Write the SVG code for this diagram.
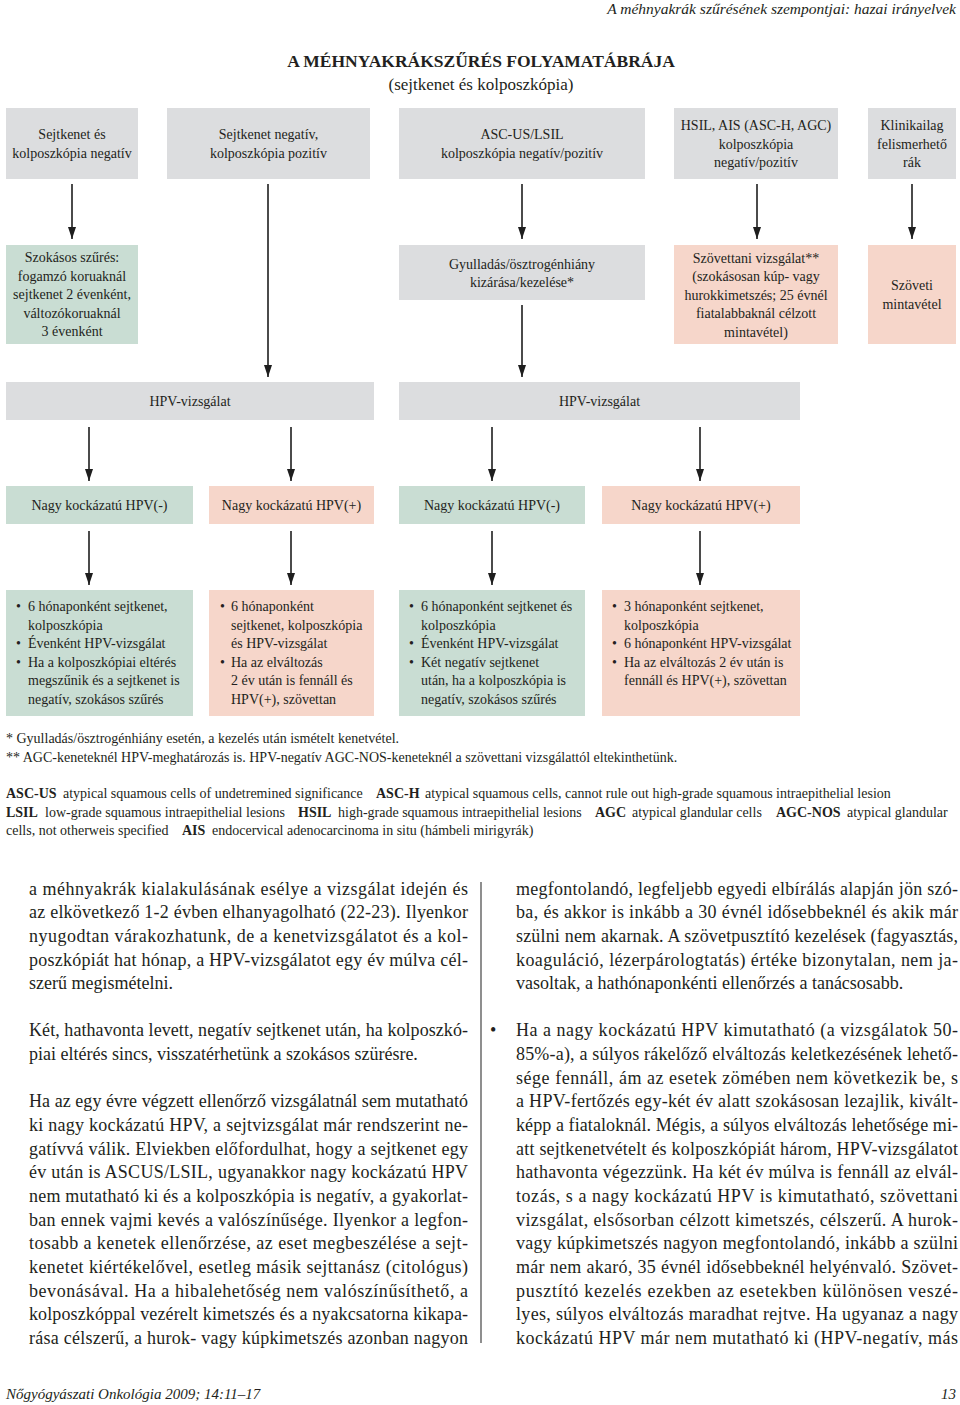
<svg xmlns="http://www.w3.org/2000/svg" width="960" height="1405" viewBox="0 0 960 1405">
<style>
text{font-family:"Liberation Serif","Times New Roman",serif;fill:#231f20}
.t{font-size:14px}
.c{text-anchor:middle}
.b{font-size:18px}
.i{font-style:italic}
.bd{font-weight:bold}
.gray{fill:#dcdddf}
.green{fill:#c9ddd3}
.pink{fill:#f6d6ca}
.ln{stroke:#1e1e1e;stroke-width:1.6;fill:none}
.cn{stroke:#1e1e1e;stroke-width:1.6;fill:none;marker-end:url(#ah)}
</style>
<defs>
<marker id="ah" viewBox="0 0 12 8" refX="12" refY="4" markerWidth="12" markerHeight="8" markerUnits="userSpaceOnUse" orient="auto">
<path d="M0,0 L12,4 L0,8 Z" fill="#1e1e1e"/>
</marker>
</defs>
<rect width="960" height="1405" fill="#fff"/>

<g id="header">
<text class="i" x="956" y="14" style="font-size:15.5px;text-anchor:end">A méhnyakrák szűrésének szempontjai: hazai irányelvek</text>
<text class="bd c" x="481" y="67" style="font-size:17.5px">A MÉHNYAKRÁKSZŰRÉS FOLYAMATÁBRÁJA</text>
<text class="c" x="481" y="90" style="font-size:17px">(sejtkenet és kolposzkópia)</text>
</g>

<g id="connectors">
<line class="cn" x1="72" y1="184" x2="72" y2="239"/>
<line class="cn" x1="268" y1="184" x2="268" y2="377"/>
<line class="cn" x1="522" y1="184" x2="522" y2="239"/>
<line class="cn" x1="757" y1="184" x2="757" y2="239"/>
<line class="cn" x1="912" y1="184" x2="912" y2="239"/>
<line class="cn" x1="522" y1="305" x2="522" y2="377"/>
<line class="cn" x1="89" y1="427" x2="89" y2="481"/>
<line class="cn" x1="291" y1="427" x2="291" y2="481"/>
<line class="cn" x1="492" y1="427" x2="492" y2="481"/>
<line class="cn" x1="700" y1="427" x2="700" y2="481"/>
<line class="cn" x1="89" y1="531" x2="89" y2="585"/>
<line class="cn" x1="291" y1="531" x2="291" y2="585"/>
<line class="cn" x1="492" y1="531" x2="492" y2="585"/>
<line class="cn" x1="700" y1="531" x2="700" y2="585"/>
</g>

<g id="n1">
<rect class="gray" x="6" y="108" width="132" height="71"/>
<text class="t c" x="72" y="139">Sejtkenet és</text>
<text class="t c" x="72" y="158">kolposzkópia negatív</text>
</g>
<g id="n2">
<rect class="gray" x="167" y="108" width="203" height="71"/>
<text class="t c" x="268.5" y="139">Sejtkenet negatív,</text>
<text class="t c" x="268.5" y="158">kolposzkópia pozitív</text>
</g>
<g id="n3">
<rect class="gray" x="399" y="108" width="246" height="71"/>
<text class="t c" x="522" y="139">ASC-US/LSIL</text>
<text class="t c" x="522" y="158">kolposzkópia negatív/pozitív</text>
</g>
<g id="n4">
<rect class="gray" x="674" y="108" width="164" height="71"/>
<text class="t c" x="756" y="130">HSIL, AIS (ASC-H, AGC)</text>
<text class="t c" x="756" y="149">kolposzkópia</text>
<text class="t c" x="756" y="167">negatív/pozitív</text>
</g>
<g id="n5">
<rect class="gray" x="868" y="108" width="88" height="71"/>
<text class="t c" x="912" y="130">Klinikailag</text>
<text class="t c" x="912" y="149">felismerhető</text>
<text class="t c" x="912" y="167">rák</text>
</g>

<g id="n6">
<rect class="green" x="6" y="245" width="132" height="99"/>
<text class="t c" x="72" y="262">Szokásos szűrés:</text>
<text class="t c" x="72" y="281">fogamzó koruaknál</text>
<text class="t c" x="72" y="299">sejtkenet 2 évenként,</text>
<text class="t c" x="72" y="318">változókoruaknál</text>
<text class="t c" x="72" y="336">3 évenként</text>
</g>
<g id="n7">
<rect class="gray" x="399" y="245" width="246" height="55"/>
<text class="t c" x="522" y="269">Gyulladás/ösztrogénhiány</text>
<text class="t c" x="522" y="287">kizárása/kezelése*</text>
</g>
<g id="n8">
<rect class="pink" x="674" y="245" width="164" height="99"/>
<text class="t c" x="756" y="263">Szövettani vizsgálat**</text>
<text class="t c" x="756" y="281">(szokásosan kúp- vagy</text>
<text class="t c" x="756" y="300">hurokkimetszés; 25 évnél</text>
<text class="t c" x="756" y="318">fiatalabbaknál célzott</text>
<text class="t c" x="756" y="337">mintavétel)</text>
</g>
<g id="n9">
<rect class="pink" x="868" y="245" width="88" height="99"/>
<text class="t c" x="912" y="290">Szöveti</text>
<text class="t c" x="912" y="309">mintavétel</text>
</g>

<g id="n10">
<rect class="gray" x="6" y="382" width="368" height="38"/>
<text class="t c" x="190" y="406">HPV-vizsgálat</text>
</g>
<g id="n11">
<rect class="gray" x="399" y="382" width="401" height="38"/>
<text class="t c" x="599.5" y="406">HPV-vizsgálat</text>
</g>

<g id="n12">
<rect class="green" x="6" y="486" width="187" height="38"/>
<text class="t c" x="99.5" y="510">Nagy kockázatú HPV(-)</text>
</g>
<g id="n13">
<rect class="pink" x="209" y="486" width="165" height="38"/>
<text class="t c" x="291.5" y="510">Nagy kockázatú HPV(+)</text>
</g>
<g id="n14">
<rect class="green" x="399" y="486" width="186" height="38"/>
<text class="t c" x="492" y="510">Nagy kockázatú HPV(-)</text>
</g>
<g id="n15">
<rect class="pink" x="602" y="486" width="198" height="38"/>
<text class="t c" x="701" y="510">Nagy kockázatú HPV(+)</text>
</g>

<g id="n16">
<rect class="green" x="6" y="590" width="187" height="126"/>
<text class="t" x="16" y="611">•</text><text class="t" x="28" y="611">6 hónaponként sejtkenet,</text>
<text class="t" x="28" y="630">kolposzkópia</text>
<text class="t" x="16" y="648">•</text><text class="t" x="28" y="648">Évenként HPV-vizsgálat</text>
<text class="t" x="16" y="667">•</text><text class="t" x="28" y="667">Ha a kolposzkópiai eltérés</text>
<text class="t" x="28" y="685">megszűnik és a sejtkenet is</text>
<text class="t" x="28" y="704">negatív, szokásos szűrés</text>
</g>
<g id="n17">
<rect class="pink" x="209" y="590" width="165" height="126"/>
<text class="t" x="220" y="611">•</text><text class="t" x="231" y="611">6 hónaponként</text>
<text class="t" x="231" y="630">sejtkenet, kolposzkópia</text>
<text class="t" x="231" y="648">és HPV-vizsgálat</text>
<text class="t" x="220" y="667">•</text><text class="t" x="231" y="667">Ha az elváltozás</text>
<text class="t" x="231" y="685">2 év után is fennáll és</text>
<text class="t" x="231" y="704">HPV(+), szövettan</text>
</g>
<g id="n18">
<rect class="green" x="399" y="590" width="186" height="126"/>
<text class="t" x="409" y="611">•</text><text class="t" x="421" y="611">6 hónaponként sejtkenet és</text>
<text class="t" x="421" y="630">kolposzkópia</text>
<text class="t" x="409" y="648">•</text><text class="t" x="421" y="648">Évenként HPV-vizsgálat</text>
<text class="t" x="409" y="667">•</text><text class="t" x="421" y="667">Két negatív sejtkenet</text>
<text class="t" x="421" y="685">után, ha a kolposzkópia is</text>
<text class="t" x="421" y="704">negatív, szokásos szűrés</text>
</g>
<g id="n19">
<rect class="pink" x="602" y="590" width="198" height="126"/>
<text class="t" x="612" y="611">•</text><text class="t" x="624" y="611">3 hónaponként sejtkenet,</text>
<text class="t" x="624" y="630">kolposzkópia</text>
<text class="t" x="612" y="648">•</text><text class="t" x="624" y="648">6 hónaponként HPV-vizsgálat</text>
<text class="t" x="612" y="667">•</text><text class="t" x="624" y="667">Ha az elváltozás 2 év után is</text>
<text class="t" x="624" y="685">fennáll és HPV(+), szövettan</text>
</g>

<g id="notes">
<text class="t" x="6" y="743">* Gyulladás/ösztrogénhiány esetén, a kezelés után ismételt kenetvétel.</text>
<text class="t" x="6" y="762">** AGC-keneteknél HPV-meghatározás is. HPV-negatív AGC-NOS-keneteknél a szövettani vizsgálattól eltekinthetünk.</text>
<text class="t bd" x="6" y="798">ASC-US</text>
<text class="t" x="63" y="798">atypical squamous cells of undetremined significance</text>
<text class="t bd" x="376" y="798">ASC-H</text>
<text class="t" x="425" y="798">atypical squamous cells, cannot rule out high-grade squamous intraepithelial lesion</text>
<text class="t bd" x="6" y="817">LSIL</text>
<text class="t" x="45" y="817">low-grade squamous intraepithelial lesions</text>
<text class="t bd" x="298" y="817">HSIL</text>
<text class="t" x="338" y="817">high-grade squamous intraepithelial lesions</text>
<text class="t bd" x="595" y="817">AGC</text>
<text class="t" x="632" y="817">atypical glandular cells</text>
<text class="t bd" x="776" y="817">AGC-NOS</text>
<text class="t" x="847" y="817">atypical glandular</text>
<text class="t" x="6" y="835">cells, not otherweis specified</text>
<text class="t bd" x="182" y="835">AIS</text>
<text class="t" x="212" y="835">endocervical adenocarcinoma in situ (hámbeli mirigyrák)</text>
</g>

<g id="body-left">
<text class="b" x="29" y="894.5" textLength="439" lengthAdjust="spacing">a méhnyakrák kialakulásának esélye a vizsgálat idején és</text>
<text class="b" x="29" y="918.2" textLength="439" lengthAdjust="spacing">az elkövetkező 1-2 évben elhanyagolható (22-23). Ilyenkor</text>
<text class="b" x="29" y="941.8" textLength="439" lengthAdjust="spacing">nyugodtan várakozhatunk, de a kenetvizsgálatot és a kol-</text>
<text class="b" x="29" y="965.5" textLength="439" lengthAdjust="spacing">poszkópiát hat hónap, a HPV-vizsgálatot egy év múlva cél-</text>
<text class="b" x="29" y="989.1">szerű megismételni.</text>
<text class="b" x="29" y="1036.4" textLength="439" lengthAdjust="spacing">Két, hathavonta levett, negatív sejtkenet után, ha kolposzkó-</text>
<text class="b" x="29" y="1060.1">piai eltérés sincs, visszatérhetünk a szokásos szürésre.</text>
<text class="b" x="29" y="1107.4" textLength="439" lengthAdjust="spacing">Ha az egy évre végzett ellenőrző vizsgálatnál sem mutatható</text>
<text class="b" x="29" y="1131.1" textLength="439" lengthAdjust="spacing">ki nagy kockázatú HPV, a sejtvizsgálat már rendszerint ne-</text>
<text class="b" x="29" y="1154.7" textLength="439" lengthAdjust="spacing">gatívvá válik. Elviekben előfordulhat, hogy a sejtkenet egy</text>
<text class="b" x="29" y="1178.4" textLength="439" lengthAdjust="spacing">év után is ASCUS/LSIL, ugyanakkor nagy kockázatú HPV</text>
<text class="b" x="29" y="1202.0" textLength="439" lengthAdjust="spacing">nem mutatható ki és a kolposzkópia is negatív, a gyakorlat-</text>
<text class="b" x="29" y="1225.7" textLength="439" lengthAdjust="spacing">ban ennek vajmi kevés a valószínűsége. Ilyenkor a legfon-</text>
<text class="b" x="29" y="1249.3" textLength="439" lengthAdjust="spacing">tosabb a kenetek ellenőrzése, az eset megbeszélése a sejt-</text>
<text class="b" x="29" y="1273.0" textLength="439" lengthAdjust="spacing">kenetet kiértékelővel, esetleg másik sejttanász (citológus)</text>
<text class="b" x="29" y="1296.6" textLength="439" lengthAdjust="spacing">bevonásával. Ha a hibalehetőség nem valószínűsíthető, a</text>
<text class="b" x="29" y="1320.3" textLength="439" lengthAdjust="spacing">kolposzkóppal vezérelt kimetszés és a nyakcsatorna kikapa-</text>
<text class="b" x="29" y="1343.9" textLength="439" lengthAdjust="spacing">rása célszerű, a hurok- vagy kúpkimetszés azonban nagyon</text>
</g>

<g id="divider">
<line class="ln" x1="481" y1="882" x2="481" y2="1343" style="stroke-width:1.2;stroke:#444"/>
</g>

<g id="body-right">
<text class="b" x="516" y="894.5" textLength="442" lengthAdjust="spacing">megfontolandó, legfeljebb egyedi elbírálás alapján jön szó-</text>
<text class="b" x="516" y="918.2" textLength="442" lengthAdjust="spacing">ba, és akkor is inkább a 30 évnél idősebbeknél és akik már</text>
<text class="b" x="516" y="941.8" textLength="442" lengthAdjust="spacing">szülni nem akarnak. A szövetpusztító kezelések (fagyasztás,</text>
<text class="b" x="516" y="965.5" textLength="442" lengthAdjust="spacing">koaguláció, lézerpárologtatás) értéke bizonytalan, nem ja-</text>
<text class="b" x="516" y="989.1">vasoltak, a hathónaponkénti ellenőrzés a tanácsosabb.</text>
<text class="b" x="490" y="1036.4">•</text>
<text class="b" x="516" y="1036.4" textLength="442" lengthAdjust="spacing">Ha a nagy kockázatú HPV kimutatható (a vizsgálatok 50-</text>
<text class="b" x="516" y="1060.1" textLength="442" lengthAdjust="spacing">85%-a), a súlyos rákelőző elváltozás keletkezésének lehető-</text>
<text class="b" x="516" y="1083.7" textLength="442" lengthAdjust="spacing">sége fennáll, ám az esetek zömében nem következik be, s</text>
<text class="b" x="516" y="1107.4" textLength="442" lengthAdjust="spacing">a HPV-fertőzés egy-két év alatt szokásosan lezajlik, kivált-</text>
<text class="b" x="516" y="1131.1" textLength="442" lengthAdjust="spacing">képp a fiataloknál. Mégis, a súlyos elváltozás lehetősége mi-</text>
<text class="b" x="516" y="1154.7" textLength="442" lengthAdjust="spacing">att sejtkenetvételt és kolposzkópiát három, HPV-vizsgálatot</text>
<text class="b" x="516" y="1178.4" textLength="442" lengthAdjust="spacing">hathavonta végezzünk. Ha két év múlva is fennáll az elvál-</text>
<text class="b" x="516" y="1202.0" textLength="442" lengthAdjust="spacing">tozás, s a nagy kockázatú HPV is kimutatható, szövettani</text>
<text class="b" x="516" y="1225.7" textLength="442" lengthAdjust="spacing">vizsgálat, elsősorban célzott kimetszés, célszerű. A hurok-</text>
<text class="b" x="516" y="1249.3" textLength="442" lengthAdjust="spacing">vagy kúpkimetszés nagyon megfontolandó, inkább a szülni</text>
<text class="b" x="516" y="1273.0" textLength="442" lengthAdjust="spacing">már nem akaró, 35 évnél idősebbeknél helyénvaló. Szövet-</text>
<text class="b" x="516" y="1296.6" textLength="442" lengthAdjust="spacing">pusztító kezelés ezekben az esetekben különösen veszé-</text>
<text class="b" x="516" y="1320.3" textLength="442" lengthAdjust="spacing">lyes, súlyos elváltozás maradhat rejtve. Ha ugyanaz a nagy</text>
<text class="b" x="516" y="1343.9" textLength="442" lengthAdjust="spacing">kockázatú HPV már nem mutatható ki (HPV-negatív, más</text>
</g>

<g id="footer">
<text class="i" x="6" y="1399" style="font-size:15px">Nőgyógyászati Onkológia 2009; 14:11–17</text>
<text class="i" x="956" y="1399" style="font-size:15px;text-anchor:end">13</text>
</g>
</svg>
